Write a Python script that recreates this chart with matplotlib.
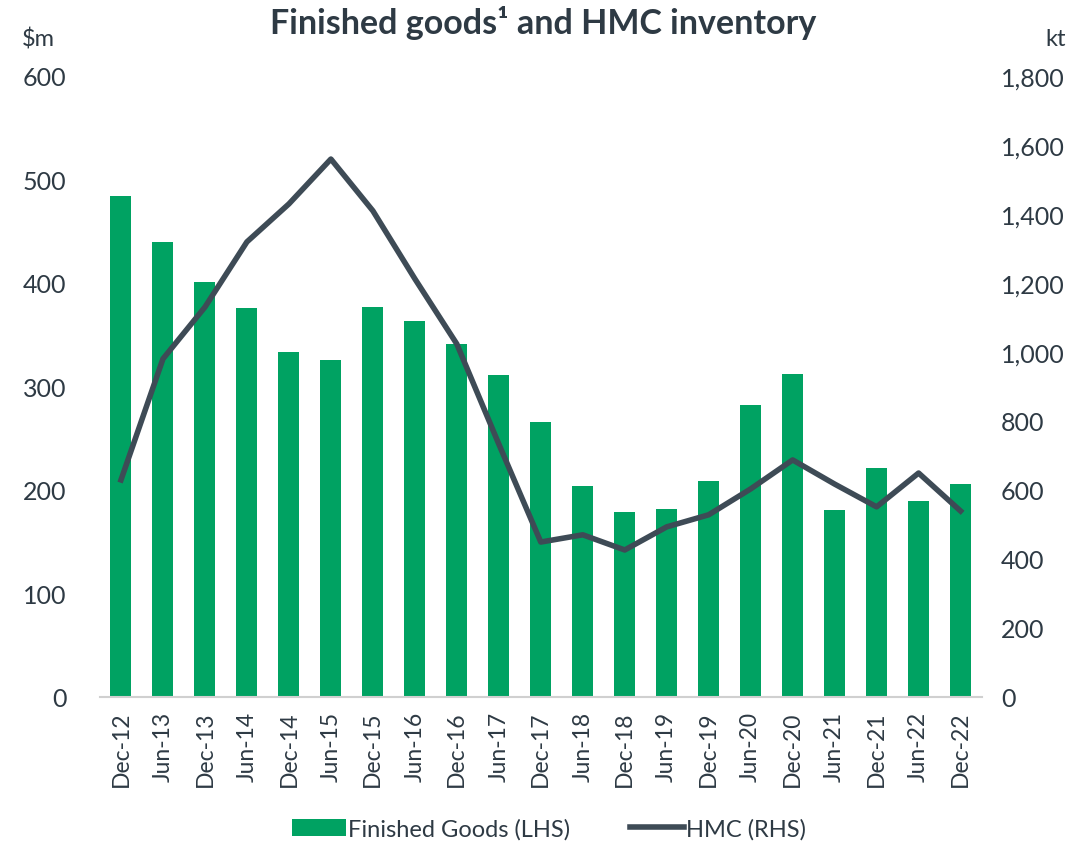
import numpy as np
import matplotlib.pyplot as plt
from matplotlib.ticker import FuncFormatter

plt.rcParams['font.family'] = ['Lato', 'DejaVu Sans']

periods = ['Dec-12', 'Jun-13', 'Dec-13', 'Jun-14', 'Dec-14', 'Jun-15', 'Dec-15',
           'Jun-16', 'Dec-16', 'Jun-17', 'Dec-17', 'Jun-18', 'Dec-18', 'Jun-19',
           'Dec-19', 'Jun-20', 'Dec-20', 'Jun-21', 'Dec-21', 'Jun-22', 'Dec-22']
finished_goods = [484, 440, 401, 376, 333, 326, 377, 363, 341, 311, 266,
                  204, 179, 182, 209, 282, 312, 181, 221, 189, 206]
hmc = [629, 980, 1130, 1319, 1429, 1559, 1409, 1212, 1023, 733, 449,
       470, 426, 493, 528, 603, 687, 617, 551, 649, 539]

green = '#00A262'
slate = '#3E4B56'
text_col = '#2E3A44'

fig = plt.figure(figsize=(10.87, 8.45), dpi=100)
ax = fig.add_axes([0.092, 0.174, 0.811, 0.735])
ax2 = ax.twinx()

x = np.arange(len(periods))
bars = ax.bar(x, finished_goods, width=0.5, color=green, label='Finished Goods (LHS)', zorder=2)
line, = ax2.plot(x, hmc, color=slate, lw=4, label='HMC (RHS)', zorder=3)

ax.set_xlim(-0.5, len(periods) - 0.5)
ax.set_ylim(0, 600)
ax.set_yticks(range(0, 601, 100))
ax2.set_ylim(0, 1800)
ax2.set_yticks(range(0, 1801, 200))
ax2.yaxis.set_major_formatter(FuncFormatter(lambda v, p: f'{int(v):,}'))

for a in (ax, ax2):
    for s in a.spines.values():
        s.set_visible(False)
    a.tick_params(axis='y', length=0, labelsize=18, labelcolor=text_col)
ax.spines['bottom'].set_visible(True)
ax.spines['bottom'].set_color('#D0D0D0')
ax.spines['bottom'].set_linewidth(1.5)
ax.tick_params(axis='y', pad=24)
ax2.tick_params(axis='y', pad=14)

ax.set_xticks(x)
ax.set_xticklabels(periods, rotation=90, fontsize=16.5, color=text_col)
ax.tick_params(axis='x', length=0, pad=10)

fig.text(0.5, 0.973, 'Finished goods¹ and HMC inventory', ha='center', va='center',
         fontsize=24.5, fontweight='bold', color=text_col)
fig.text(0.020, 0.953, '$m', fontsize=17, color=text_col, va='center')
fig.text(0.962, 0.953, 'kt', fontsize=17, color=text_col, va='center')

fig.legend(handles=[bars, line], loc='center', bbox_to_anchor=(0.505, 0.018), ncol=2,
           frameon=False, fontsize=17, handlelength=2.3, columnspacing=2.5,
           handletextpad=0.1, labelcolor=text_col)

fig.savefig('out.png', dpi=100)
